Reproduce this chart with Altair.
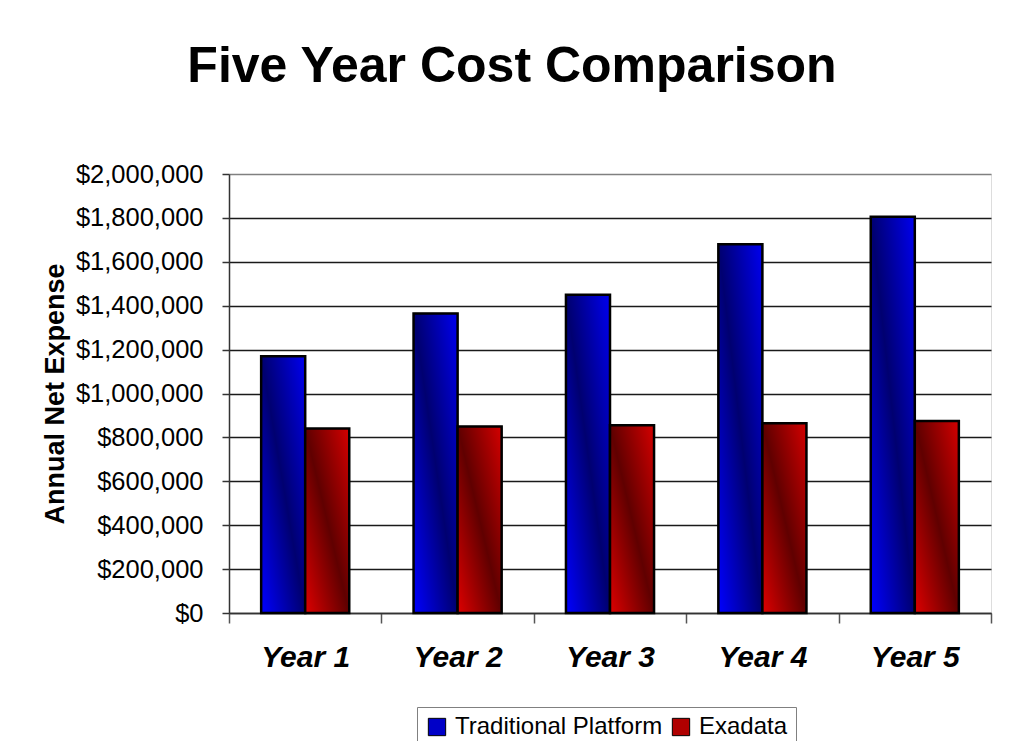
import altair as alt
import pandas as pd

years = ["Year 1", "Year 2", "Year 3", "Year 4", "Year 5"]
series = ["Traditional Platform", "Exadata"]
traditional = [1170000, 1365000, 1450000, 1680000, 1805000]
exadata = [840000, 850000, 855000, 865000, 875000]

rows = []
for i, y in enumerate(years):
    rows.append({"Year": y, "Series": series[0], "Cost": traditional[i]})
    rows.append({"Year": y, "Series": series[1], "Cost": exadata[i]})
df = pd.DataFrame(rows)

FONT = "Liberation Sans, Arial"

blue_grad = alt.LinearGradient(
    gradient="linear", x1=0, y1=1, x2=1, y2=0,
    stops=[alt.GradientStop(color="#0000ff", offset=0),
           alt.GradientStop(color="#000070", offset=0.5),
           alt.GradientStop(color="#0000f0", offset=1)])
red_grad = alt.LinearGradient(
    gradient="linear", x1=0, y1=1, x2=1, y2=0,
    stops=[alt.GradientStop(color="#dd0000", offset=0),
           alt.GradientStop(color="#600000", offset=0.5),
           alt.GradientStop(color="#d40000", offset=1)])

x_enc = alt.X("Year:N", sort=years,
              scale=alt.Scale(paddingInner=0, paddingOuter=0),
              axis=alt.Axis(title=None, labelFont=FONT, labelFontSize=30,
                            labelFontWeight="bold", labelFontStyle="italic",
                            labelColor="black", labelAngle=0, labelPadding=19,
                            tickBand="extent", tickSize=10, tickColor="#555",
                            tickWidth=1.5, domainColor="#333", domainWidth=1.5,
                            grid=False))
xo_enc = alt.XOffset("Series:N", sort=series,
                     scale=alt.Scale(domain=series, paddingInner=0, paddingOuter=0.73))
y_enc = alt.Y("Cost:Q",
              scale=alt.Scale(domain=[0, 2000000], nice=False),
              axis=alt.Axis(title="Annual Net Expense", format="$,d",
                            values=list(range(0, 2000001, 200000)),
                            labelFont=FONT, labelFontSize=25.5, labelColor="black",
                            labelPadding=19, tickSize=7, tickColor="#333",
                            tickWidth=1.5, domainColor="#333", domainWidth=1.5,
                            titleFont=FONT, titleFontSize=27, titleFontWeight="bold",
                            titleColor="black", titlePadding=6,
                            grid=True,
                            gridColor=alt.condition("datum.value >= 2000000",
                                                    alt.value("#808080"),
                                                    alt.value("#1a1a1a")),
                            gridWidth=1.5))

base = alt.Chart(df).mark_bar(stroke="black", strokeWidth=1).encode(
    x=x_enc, xOffset=xo_enc, y=y_enc,
    color=alt.Color("Series:N", sort=series,
                    scale=alt.Scale(domain=series, range=["#0000c8", "#b00000"]),
                    legend=alt.Legend(title=None, orient="none", direction="horizontal",
                                      legendX=188, legendY=533,
                                      labelFont=FONT, labelFontSize=24, labelColor="black",
                                      labelLimit=0,
                                      symbolType="square", symbolSize=300,
                                      symbolStrokeColor="black", symbolStrokeWidth=1,
                                      strokeColor="#808080", padding=8,
                                      columnPadding=6, labelOffset=6)),
)

grad = alt.Chart(df).mark_bar(stroke="black", strokeWidth=2.5).encode(
    x=x_enc, xOffset=xo_enc, y=y_enc,
    fill=alt.condition("datum.Series == 'Exadata'", alt.value(red_grad), alt.value(blue_grad)),
)

chart = alt.layer(base, grad).properties(
    width=762, height=439,
    padding={"left": 221, "top": 166, "right": 16, "bottom": 128},
    autosize=alt.AutoSizeParams(type="none"),
    title=alt.Title("Five Year Cost Comparison", font=FONT, fontSize=50,
                    fontWeight="bold", color="black", anchor="middle",
                    baseline="alphabetic", offset=30, dx=-98),
).configure_view(fill="#c0c0c0", stroke="#808080", strokeWidth=2).configure(background="white")

chart.save("out.html", embed_options={"renderer": "svg", "actions": False})
